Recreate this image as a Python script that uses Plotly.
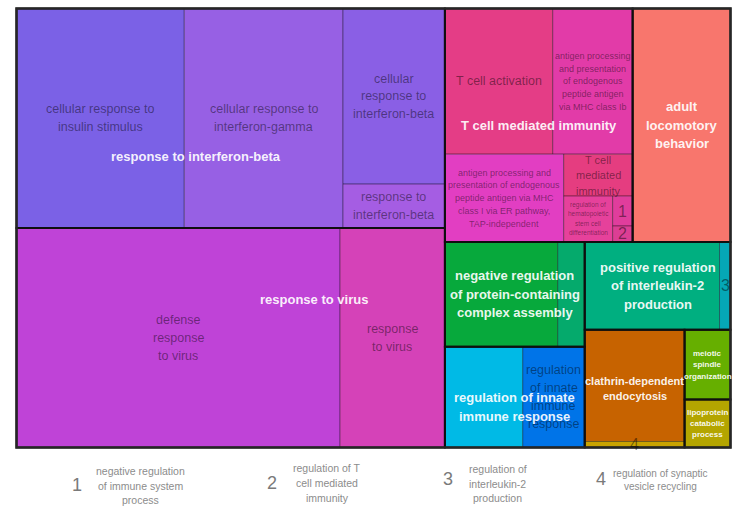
import plotly.graph_objects as go

# ---------------- data ----------------
group_names = [
    "response to interferon-beta",
    "response to virus",
    "T cell mediated immunity",
    "adult locomotory behavior",
    "negative regulation of protein-containing complex assembly",
    "regulation of innate immune response",
    "positive regulation of interleukin-2 production",
    "clathrin-dependent endocytosis",
    "meiotic spindle organization",
    "lipoprotein catabolic process",
]

term_names = [
    "cellular response to insulin stimulus",
    "cellular response to interferon-gamma",
    "cellular response to interferon-beta",
    "response to interferon-beta",
    "defense response to virus",
    "response to virus",
    "T cell activation",
    "antigen processing and presentation of endogenous peptide antigen via MHC class Ib",
    "antigen processing and presentation of endogenous peptide antigen via MHC class I via ER pathway, TAP-independent",
    "T cell mediated immunity",
    "regulation of hematopoietic stem cell differentiation",
    "negative regulation of immune system process",
    "regulation of T cell mediated immunity",
    "adult locomotory behavior",
    "negative regulation of protein-containing complex assembly",
    "",
    "",
    "regulation of innate immune response",
    "positive regulation of interleukin-2 production",
    "regulation of interleukin-2 production",
    "clathrin-dependent endocytosis",
    "regulation of synaptic vesicle recycling",
    "meiotic spindle organization",
    "lipoprotein catabolic process",
]

term_groups = [0, 0, 0, 0, 1, 1, 2, 2, 2, 2, 2, 2, 2, 3, 4, 4, 5, 5, 6, 6, 7, 7, 8, 9]

term_values = [36960, 34980, 17952, 4488, 71280, 23100,
               15768, 11680, 10472, 2898, 2254, 600, 320,
               22932, 11865, 2835, 7878, 6262, 11880, 968,
               11200, 600, 3220, 2208]

term_colors = ["#7B61E6", "#9760E4", "#8A5FE5", "#A55DE3", "#BF43D7", "#D542B8",
               "#E43D86", "#E23BA8", "#E23EC2", "#E53D80", "#E6419B", "#E03D9C", "#DC3E94",
               "#F8766D", "#07A93C", "#05AA6C", "#00BAE6", "#0074E8", "#00AF80", "#05A7B6",
               "#C76300", "#C9A300", "#66AF00", "#B4A500"]

legend_numbers = ["1", "2", "3", "4"]
legend_terms = [
    "negative regulation of immune system process",
    "regulation of T cell mediated immunity",
    "regulation of interleukin-2 production",
    "regulation of synaptic vesicle recycling",
]

# ---------------- styles (text wrapping / sizes / offsets) ----------------
inner_text = {
    "cellular response to insulin stimulus": (["cellular response to", "insulin stimulus"], 12.5),
    "cellular response to interferon-gamma": (["cellular response to", "interferon-gamma"], 12.5),
    "cellular response to interferon-beta": (["cellular", "response to", "interferon-beta"], 12.5),
    "response to interferon-beta": (["response to", "interferon-beta"], 12.5),
    "defense response to virus": (["defense", "response", "to virus"], 12.5),
    "response to virus": (["response", "to virus"], 12.5),
    "T cell activation": (["T cell activation"], 12.5),
    term_names[7]: (["antigen processing", "and presentation", "of endogenous",
                     "peptide antigen", "via MHC class Ib"], 9),
    term_names[8]: (["antigen processing and", "presentation of endogenous",
                     "peptide antigen via MHC", "class I via ER pathway,",
                     "TAP-independent"], 9),
    "T cell mediated immunity": (["T cell", "mediated", "immunity"], 11),
    "regulation of hematopoietic stem cell differentiation":
        (["regulation of", "hematopoietic", "stem cell", "differentiation"], 6.5),
    "negative regulation of immune system process": (["1"], 16),
    "regulation of T cell mediated immunity": (["2"], 16),
    "regulation of innate immune response": (["regulation", "of innate", "immune", "response"], 12.5),
    "regulation of interleukin-2 production": (["3"], 16),
    "regulation of synaptic vesicle recycling": (["4"], 16),
}

group_text = {
    0: (["response to interferon-beta"], 13, (-34.5, 38)),
    1: (["response to virus"], 13, (83, -38)),
    2: (["T cell mediated immunity"], 13, (0, 0)),
    3: (["adult", "locomotory", "behavior"], 13, (0, 0)),
    4: (["negative regulation", "of protein-containing", "complex assembly"], 13, (0, 0)),
    5: (["regulation of innate", "immune response"], 13, (0, 10)),
    6: (["positive regulation", "of interleukin-2", "production"], 13, (0, 0)),
    7: (["clathrin-dependent", "endocytosis"], 11, (0, 0)),
    8: (["meiotic", "spindle", "organization"], 8, (0, 0)),
    9: (["lipoprotein", "catabolic", "process"], 8, (0, 0)),
}

legend_wrap = [
    ["negative regulation", "of immune system", "process"],
    ["regulation of T", "cell mediated", "immunity"],
    ["regulation of", "interleukin-2", "production"],
    ["regulation of synaptic", "vesicle recycling"],
]
# window-pixel positions of legend pieces (number x, number y, text x, first line y, line step, font)
legend_pos = [
    (77, 486, 140, 472, 14.5, 10.5),
    (272, 484, 327, 469, 15, 10.5),
    (448, 480, 498, 470, 14.5, 10.5),
    (601, 480, 661, 474, 13, 10),
]

FONT = "Liberation Sans, Arial, Helvetica, sans-serif"
W, H = 715.0, 440.0          # drawing canvas (axis units = pixels)
X0, Y0 = 16, 8               # window position of the canvas
FIG_W, FIG_H = 733, 506
PAD = 1.5                    # axis padding so the frame line is not clipped
LINE_FACTOR = 1.42


# ---------------- pivot-by-size treemap layout ----------------
def pivot_layout(items, x, y, w, h, out):
    if not items:
        return
    if len(items) == 1:
        out[items[0][0]] = (x, y, w, h)
        return
    total = float(sum(v for _, v in items))
    p, rest = items[0], items[1:]
    best_k, best_r = 0, None
    for k in range(len(rest) + 1):
        s = p[1] + sum(v for _, v in rest[:k])
        if w >= h:
            a = w * s / total
            b = h * p[1] / s
        else:
            a = h * s / total
            b = w * p[1] / s
        r = max(a / b, b / a)
        if best_r is None or r < best_r - 1e-9:
            best_r, best_k = r, k
    l2, l3 = rest[:best_k], rest[best_k:]
    s = p[1] + sum(v for _, v in l2)
    if w >= h:
        cw = w * s / total
        ph = h * p[1] / s
        out[p[0]] = (x, y, cw, ph)
        pivot_layout(l2, x, y + ph, cw, h - ph, out)
        pivot_layout(l3, x + cw, y, w - cw, h, out)
    else:
        ch = h * s / total
        pw = w * p[1] / s
        out[p[0]] = (x, y, pw, ch)
        pivot_layout(l2, x + pw, y, w - pw, ch, out)
        pivot_layout(l3, x, y + ch, w, h - ch, out)


def sort_desc(pairs):
    return sorted(pairs, key=lambda t: -t[1])


group_values = [sum(v for v, g in zip(term_values, term_groups) if g == gi)
                for gi in range(len(group_names))]
group_rects = {}
pivot_layout(sort_desc(list(enumerate(group_values))), 0, 0, W, H, group_rects)

term_rects = {}
for gi in range(len(group_names)):
    gx, gy, gw, gh = group_rects[gi]
    members = [(ti, term_values[ti]) for ti in range(len(term_names)) if term_groups[ti] == gi]
    pivot_layout(sort_desc(members), gx, gy, gw, gh, term_rects)

# ---------------- figure ----------------
shapes = []
annotations = []

for ti in range(len(term_names)):
    x, y, w, h = term_rects[ti]
    shapes.append(dict(type="rect", xref="x", yref="y", x0=x, y0=y, x1=x + w, y1=y + h,
                       fillcolor=term_colors[ti], line=dict(color="rgba(0,0,0,0.35)", width=1),
                       layer="below"))

for gi in range(len(group_names)):
    x, y, w, h = group_rects[gi]
    shapes.append(dict(type="rect", xref="x", yref="y", x0=x, y0=y, x1=x + w, y1=y + h,
                       fillcolor="rgba(0,0,0,0)", line=dict(color="rgba(15,15,15,0.95)", width=2),
                       layer="above"))

shapes.append(dict(type="rect", xref="x", yref="y", x0=0, y0=0, x1=W, y1=H,
                   fillcolor="rgba(0,0,0,0)", line=dict(color="rgba(40,40,40,0.9)", width=2.5),
                   layer="above"))


def add_lines(lines, cx, cy, size, color, bold=False):
    n = len(lines)
    step = LINE_FACTOR * size
    for i, ln in enumerate(lines):
        txt = "<b>%s</b>" % ln if bold else ln
        annotations.append(dict(x=cx, y=cy, xref="x", yref="y", text=txt, showarrow=False,
                                xanchor="center", yanchor="middle",
                                yshift=-(i - (n - 1) / 2.0) * step,
                                font=dict(family=FONT, size=size, color=color)))


for ti, name in enumerate(term_names):
    if name in inner_text:
        x, y, w, h = term_rects[ti]
        lines, size = inner_text[name]
        add_lines(lines, x + w / 2, y + h / 2, size, "rgba(0,0,0,0.45)")

for gi in range(len(group_names)):
    x, y, w, h = group_rects[gi]
    lines, size, (dx, dy) = group_text[gi]
    add_lines(lines, x + w / 2 + dx, y + h / 2 + dy, size, "rgba(255,255,255,0.93)", bold=True)

# legend for numbered boxes (paper coordinates from window pixel positions)
plot_w, plot_h = W + 2 * PAD, H + 2 * PAD


def px_to_paper(px, py):
    return (px - (X0 - PAD)) / plot_w, (Y0 + H + PAD - py) / plot_h


for k in range(len(legend_numbers)):
    nx, ny, tx, ty, step, fs = legend_pos[k]
    xp, yp = px_to_paper(nx, ny)
    annotations.append(dict(x=xp, y=yp, xref="paper", yref="paper",
                            text=legend_numbers[k], showarrow=False, xanchor="center",
                            yanchor="middle", font=dict(family=FONT, size=18, color="#7a7a7a")))
    for i, ln in enumerate(legend_wrap[k]):
        xp, yp = px_to_paper(tx, ty + i * step)
        annotations.append(dict(x=xp, y=yp, xref="paper", yref="paper", text=ln,
                                showarrow=False, xanchor="center", yanchor="middle",
                                font=dict(family=FONT, size=fs, color="#8c8c8c")))

# invisible hover trace at term centres
cxs = [term_rects[i][0] + term_rects[i][2] / 2 for i in range(len(term_names))]
cys = [term_rects[i][1] + term_rects[i][3] / 2 for i in range(len(term_names))]
fig = go.Figure(go.Scatter(x=cxs, y=cys, mode="markers", marker=dict(size=1, opacity=0),
                           text=[n if n else group_names[term_groups[i]] for i, n in enumerate(term_names)],
                           hoverinfo="text", showlegend=False))

fig.update_layout(
    width=FIG_W, height=FIG_H,
    margin=dict(l=X0 - PAD, r=FIG_W - (X0 - PAD) - plot_w,
                t=Y0 - PAD, b=FIG_H - (Y0 - PAD) - plot_h, pad=0),
    paper_bgcolor="white", plot_bgcolor="white",
    xaxis=dict(range=[-PAD, W + PAD], visible=False, fixedrange=True),
    yaxis=dict(range=[H + PAD, -PAD], visible=False, fixedrange=True),
    shapes=shapes, annotations=annotations,
    showlegend=False,
)

# remove the default 8px page margin so the figure sits at the window origin
fig.write_html("out.html", config={"displayModeBar": False},
               post_script="document.body.style.margin='0';document.body.style.overflow='hidden';")
